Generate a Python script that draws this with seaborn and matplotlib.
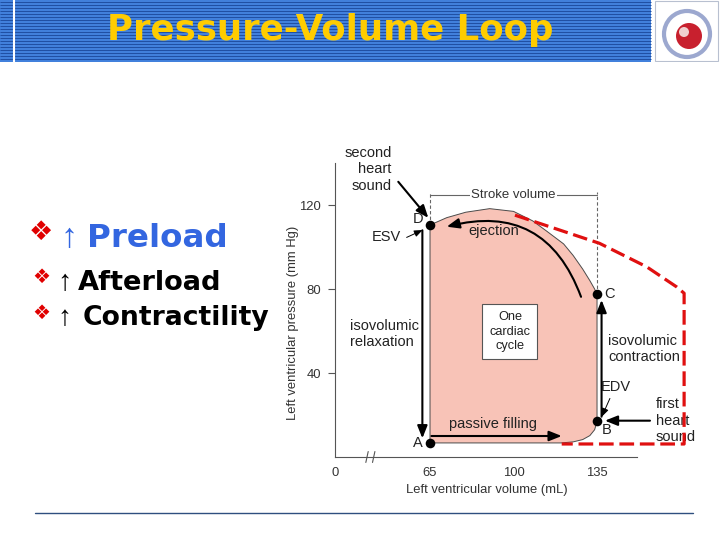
import matplotlib
matplotlib.use("Agg")
import matplotlib.pyplot as plt
import seaborn as sns
import numpy as np
from matplotlib.patches import Rectangle, Circle, FancyArrowPatch
from matplotlib.lines import Line2D

# ---------------- data ----------------
title_text = "Pressure-Volume Loop"
bullet_words = ["Preload", "Afterload", "Contractility"]

loop_volume = [65, 65, 72, 80, 90, 100, 108, 114, 121, 125, 129, 132, 134, 135,
               135, 134, 132, 129, 125, 120, 65]
loop_pressure = [6.7, 110.5, 114, 116.6, 118.3, 117, 112.5, 107.5, 101.5, 96, 89.5, 84, 80, 77.5,
                 17, 13, 10.2, 8.3, 7.2, 6.7, 6.7]

red_volume = [100.6, 136, 155.8, 168.4, 171.5, 171.5, 120.2]
red_pressure = [115.2, 101.8, 90.6, 81, 78, 6.2, 6.2]

point_labels = ["A", "B", "C", "D"]
point_volume = [65, 135, 135, 65]
point_pressure = [6.5, 17.3, 77.6, 110.5]

xtick_pos = [25.2, 65, 100, 135]
xtick_labels = ["0", "65", "100", "135"]
ytick_pos = [40, 80, 120]
ytick_labels = ["40", "80", "120"]

esv_volume, edv_volume = 65, 135
stroke_level = 124.8

# arrows (start, end) in data units
arrow_relax = ((61.8, 108), (61.8, 8.9))
arrow_contract = ((136.9, 19.2), (136.9, 74.8))
arrow_filling = ((65.6, 10), (120.2, 10))
arrow_ejection = ((128.3, 76.3), (72, 109.7))
arrow_s2 = ((51.7, 131.1), (64.3, 113.9))
arrow_s1 = ((157.2, 17.3), (138.3, 17.3))
arrow_esv = ((55.2, 104.6), (61.9, 108.1))
arrow_edv = ((140.4, 27.9), (137.0, 19.2))

# ---------------- style ----------------
sns.set_theme(style="ticks")
plt.rcParams["font.family"] = ["Liberation Sans", "DejaVu Sans"]

W, H = 720, 540
fig = plt.figure(figsize=(7.2, 5.4), dpi=100)
fig.patch.set_facecolor("white")

def fx(x):
    return x / W

def fy(y):
    return 1 - y / H

# ---------------- header ----------------
hdr = fig.add_axes([0, 1 - 62 / H, 1, 62 / H])
hdr.set_xlim(0, W)
hdr.set_ylim(62, 0)
hdr.axis("off")
hdr.add_patch(Rectangle((0, 0), 651, 62, facecolor="#4180DC", edgecolor="none"))
for yy in np.arange(1.5, 62, 3):
    hdr.plot([0, 651], [yy, yy], color="#1F4FA3", lw=0.7, solid_capstyle="butt")
hdr.plot([14, 14], [0, 62], color="white", lw=1.5)
hdr.add_patch(Rectangle((655, 1), 63, 60, facecolor="white", edgecolor="#B8C0D0", lw=0.8))
hdr.add_patch(Circle((687, 34), 23, fill=False, edgecolor="#5A6FB0", lw=3, alpha=0.6))
hdr.add_patch(Circle((689, 36), 13, facecolor="#C8202E", edgecolor="none"))
hdr.add_patch(Circle((684, 32), 5, facecolor="#F0D0D0", edgecolor="none"))
hdr.text(107, 40, title_text, ha="left", va="baseline", fontsize=25.6,
         fontweight="bold", color="#FFCC00", family="DejaVu Sans")

# ---------------- left bullets ----------------
rows = [
    # bullet x, bullet y, bullet size, arrow x, word x, baseline, word size, colour
    (29, 233, 19.5, 60, 87, 247, 23.4, "#3366E0"),
    (32, 277.5, 14.5, 57, 78, 290, 19.6, "black"),
    (32, 313.5, 14.5, 57, 83, 325, 19.2, "black"),
]
for word, (bx, by, bs, ax_, wx, base, ws, col) in zip(bullet_words, rows):
    fig.text(fx(bx), fy(by), "\u2756", color="#E00000", fontsize=bs, va="center",
             ha="left", family="DejaVu Sans")
    fig.text(fx(ax_), fy(base), "\u2191", color=col, fontsize=ws * 1.05, va="baseline",
             ha="left", family="Liberation Sans", fontweight="bold")
    fig.text(fx(wx), fy(base), word, color=col, fontsize=ws, va="baseline",
             ha="left", family="DejaVu Sans", fontweight="bold")

fig.add_artist(Line2D([fx(35), fx(693)], [fy(513), fy(513)], color="#2F4F7F", lw=1))

# ---------------- main chart ----------------
ax = fig.add_axes([fx(335), 83 / H, 375 / W, 317 / H])
ax.set_facecolor("none")
ax.set_xlim(25.18, 182.35)
ax.set_ylim(0, 151)

ax.fill(loop_volume, loop_pressure, facecolor="#F8C3B7", edgecolor="#4A4A4A", lw=0.7, zorder=1)

# stroke volume bracket
ax.plot([esv_volume, esv_volume], [point_pressure[3], stroke_level + 1.5], color="#666666",
        lw=0.8, ls=(0, (3, 2)), zorder=2)
ax.plot([edv_volume, edv_volume], [point_pressure[2], stroke_level + 1.5], color="#666666",
        lw=0.8, ls=(0, (3, 2)), zorder=2)
ax.plot([esv_volume, edv_volume], [stroke_level, stroke_level], color="#666666", lw=0.8, zorder=2)
ax.text((esv_volume + edv_volume) / 2, stroke_level, "Stroke volume", ha="center", va="center",
        fontsize=9.5, color="#333333",
        bbox=dict(facecolor="white", edgecolor="none", pad=1.0), zorder=3)

# red dashed loop (increased preload)
red_line, = ax.plot(red_volume, red_pressure, color="#E01010", lw=2.3, zorder=6,
                    solid_capstyle="butt", clip_on=False)
red_line.set_dashes([4.6, 1.8])

# arrows
def draw_arrow(seg, lw=1.5, hl=0.75, hw=0.3, conn="arc3,rad=0"):
    p = FancyArrowPatch(seg[0], seg[1], connectionstyle=conn,
                        arrowstyle=f"-|>,head_length={hl},head_width={hw}",
                        mutation_scale=10, lw=lw, color="black", shrinkA=0, shrinkB=0,
                        zorder=5, clip_on=False)
    ax.add_patch(p)

draw_arrow(arrow_relax)
draw_arrow(arrow_contract)
draw_arrow(arrow_filling)
draw_arrow(arrow_ejection, conn="arc3,rad=0.45")
draw_arrow(arrow_s2)
draw_arrow(arrow_s1)
draw_arrow(arrow_esv, lw=0.7, hl=0.5, hw=0.2)
draw_arrow(arrow_edv, lw=0.7, hl=0.5, hw=0.2)

# points
sns.scatterplot(x=point_volume, y=point_pressure, color="black", s=48, edgecolor="black",
                linewidth=0, zorder=7, ax=ax, legend=False)

tc = "#222222"
fs = 10.5
for lab, x, y in zip(point_labels, [59.8, 139.0, 140.4, 60.1], [6.5, 12.9, 77.6, 113.2]):
    ax.text(x, y, lab, ha="center", va="center", fontsize=fs, color=tc, zorder=8)

ax.text(91.8, 107.8, "ejection", ha="center", va="center", fontsize=fs, color=tc, zorder=8)
ax.text(91.5, 15.7, "passive filling", ha="center", va="center", fontsize=fs, color=tc, zorder=8)
ax.text(31.5, 58.6, "isovolumic\nrelaxation", ha="left", va="center", fontsize=fs, color=tc)
ax.text(139.75, 51.4, "isovolumic\ncontraction", ha="left", va="center", fontsize=fs, color=tc)
ax.text(159.7, 17.3, "first\nheart\nsound", ha="left", va="center", fontsize=fs, color=tc,
        zorder=4)
ax.text(48.95, 137.0, "second\nheart\nsound", ha="right", va="center", multialignment="right",
        fontsize=fs, color=tc, clip_on=False)
ax.text(46.8, 104.6, "ESV", ha="center", va="center", fontsize=fs, color=tc)
ax.text(142.8, 33.5, "EDV", ha="center", va="center", fontsize=fs, color=tc)
ax.text(98.5, 59.7, "One\ncardiac\ncycle", ha="center", va="center", fontsize=9.2, color=tc,
        linespacing=1.25, zorder=8,
        bbox=dict(boxstyle="square,pad=0.55", facecolor="white", edgecolor="#555555", lw=0.8))

# axis break marks
for bx in (38.6, 41.4):
    ax.plot([bx - 0.5, bx + 0.5], [-2.6, 2.6], color="#555555", lw=0.8, clip_on=False, zorder=3)

# axes styling
sns.despine(ax=ax)
ax.spines["left"].set_bounds(0, 140)
ax.spines["bottom"].set_bounds(25.18, 151.8)
for s in ("left", "bottom"):
    ax.spines[s].set_color("#555555")
    ax.spines[s].set_linewidth(0.8)
ax.set_xticks(xtick_pos)
ax.set_xticklabels(xtick_labels)
ax.set_yticks(ytick_pos)
ax.set_yticklabels(ytick_labels)
ax.tick_params(axis="x", length=0, pad=7, labelsize=9.4, labelcolor="#333333")
ax.tick_params(axis="y", length=5, width=0.8, color="#555555", pad=5, labelsize=9.4,
               labelcolor="#333333", direction="out")

ax.set_xlabel("Left ventricular volume (mL)", fontsize=9.4, color="#333333")
ax.xaxis.set_label_coords((486.7 - 335) / 375, (457 - 490) / 317)
ax.xaxis.label.set_va("center")
ax.set_ylabel("Left ventricular pressure (mm Hg)", fontsize=9.4, color="#333333")
ax.yaxis.set_label_coords((292.7 - 335) / 375, (457 - 323) / 317)
ax.yaxis.label.set_va("center")

fig.savefig("out.png", dpi=100)
